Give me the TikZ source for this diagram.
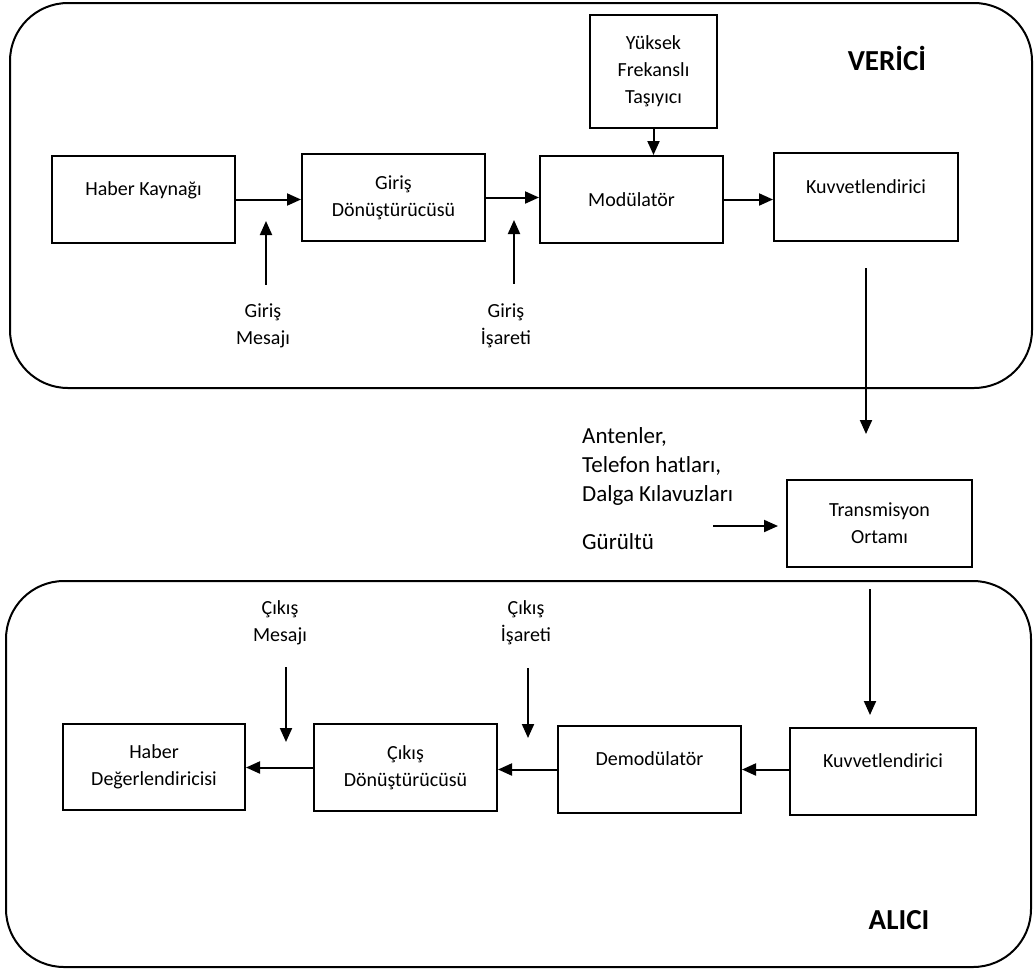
\documentclass[tikz,border=0pt]{standalone}
\usepackage{fontspec}
\setmainfont{Carlito}
\usetikzlibrary{arrows.meta,positioning}
\tikzset{
  flow/.style={-{Triangle[length=14pt,width=12pt]}, line width=2pt},
  block/.style={draw, line width=2pt, align=center, inner sep=2pt,
    font=\fontsize{20}{27}\selectfont},
  high text/.style={text depth=21pt},
  panel/.style={draw, line width=2pt, rounded corners=58pt},
  side label/.style={align=center, inner sep=2pt,
    font=\fontsize{20}{27}\selectfont},
  media label/.style={align=left, inner sep=0pt, anchor=north west,
    font=\fontsize{23}{29}\selectfont},
  panel title/.style={font=\fontsize{29}{35}\selectfont\bfseries}
}
\begin{document}
\begin{tikzpicture}[x=1pt, y=-1pt]
  \useasboundingbox (0,0) rectangle (1034,970);
  % panels
  \draw[panel] (10,3) rectangle (1032,388);
  \draw[panel] (6,581) rectangle (1031,967);
  \node[panel title] (txtitle) at (887,58) {VERİCİ};
  \node[panel title] (rxtitle) at (899,920) {ALICI};
  % transmitter
  \node[block, high text, minimum width=183pt, minimum height=87pt] (source)
    at (143.5,199.5) {Haber Kaynağı};
  \node[block, minimum width=183pt, minimum height=87pt] (inconv)
    at (393.5,197.5) {Giriş\\Dönüştürücüsü};
  \node[block, minimum width=183pt, minimum height=87pt] (mod)
    at (631.5,199.5) {Modülatör};
  \node[block, high text, minimum width=184pt, minimum height=88pt] (txamp)
    at (866,197) {Kuvvetlendirici};
  \node[block, minimum width=127pt, minimum height=113pt] (carrier)
    at (653.5,71.5) {Yüksek\\Frekanslı\\Taşıyıcı};
  \node[side label] (msgin) at (263,326) {Giriş\\Mesajı};
  \node[side label] (sigin) at (506,326) {Giriş\\İşareti};
  \coordinate (msgintip) at (266,221);
  \coordinate (sigintip) at (514,220);
  \draw[flow] (source.east) -- (source.east -| inconv.west);
  \draw[flow] (inconv.east) -- (inconv.east -| mod.west);
  \draw[flow] (mod.east) -- (mod.east -| txamp.west);
  \draw[flow] (carrier.south) -- (carrier.south |- mod.north);
  \draw[flow, shorten <=17pt] (msgintip |- msgin.north) -- (msgintip);
  \draw[flow, shorten <=18pt] (sigintip |- sigin.north) -- (sigintip);
  % channel
  \node[block, minimum width=185pt, minimum height=87pt] (trans)
    at (879.5,523.5) {Transmisyon\\Ortamı};
  \node[media label] (media) at (582,427)
    {Antenler,\\Telefon hatları,\\Dalga Kılavuzları};
  \node[media label] (noise) at (582,533) {Gürültü};
  \coordinate (noisetail) at (713,526);
  \draw[flow, shorten <=26pt, shorten >=45pt] (txamp.south) -- (txamp.south |- trans.north);
  \draw[flow, shorten >=8pt] (noisetail) -- (noisetail -| trans.west);
  % receiver
  \node[block, high text, minimum width=186pt, minimum height=87pt] (rxamp)
    at (883,771.5) {Kuvvetlendirici};
  \node[block, high text, minimum width=183pt, minimum height=87pt] (demod)
    at (649.5,769.5) {Demodülatör};
  \node[block, minimum width=183pt, minimum height=87pt] (outconv)
    at (405.5,767.5) {Çıkış\\Dönüştürücüsü};
  \node[block, minimum width=182pt, minimum height=86pt] (sink)
    at (154,767) {Haber\\Değerlendiricisi};
  \node[side label] (msgout) at (280,623) {Çıkış\\Mesajı};
  \node[side label] (sigout) at (526,623) {Çıkış\\İşareti};
  \coordinate (msgouttip) at (286,742);
  \coordinate (sigouttip) at (528,738);
  \draw[flow, shorten <=21pt, shorten >=12pt] ([xshift=-9.5pt]trans.south)
    -- ([xshift=-9.5pt]trans.south |- rxamp.north);
  \draw[flow] (rxamp.west |- demod.east) -- (demod.east);
  \draw[flow] (demod.west) -- (demod.west -| outconv.east);
  \draw[flow] (outconv.west) -- (outconv.west -| sink.east);
  \draw[flow, shorten <=20pt] (msgouttip |- msgout.south) -- (msgouttip);
  \draw[flow, shorten <=21pt] (sigouttip |- sigout.south) -- (sigouttip);
\end{tikzpicture}
\end{document}
